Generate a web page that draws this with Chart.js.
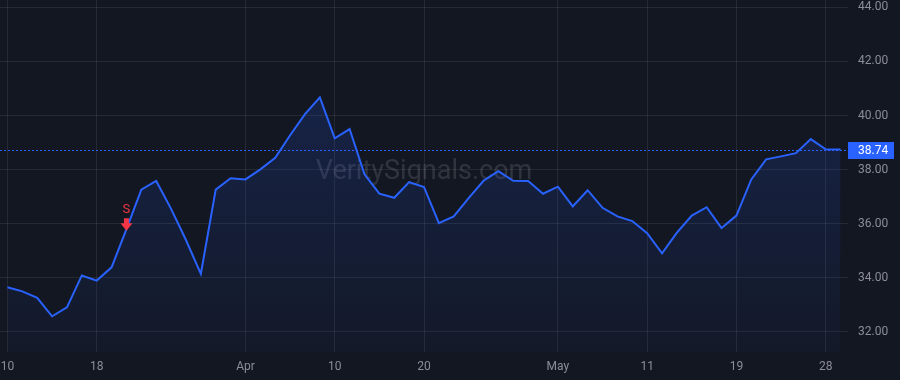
<!DOCTYPE html>
<html>
<head>
<meta charset="utf-8">
<script src="https://cdn.jsdelivr.net/npm/chart.js@4.4.1/dist/chart.umd.min.js"></script>
<style>
  html, body { margin: 0; padding: 0; background: #131722; }
  #canvas { display: block; }
</style>
</head>
<body>
<canvas id="canvas" width="900" height="380"></canvas>
<script>
var prices = [33.65, 33.50, 33.26, 32.58, 32.91, 34.09, 33.90, 34.39, 35.80, 37.26,
              37.58, 36.55, 35.40, 34.15, 37.26, 37.68, 37.64, 38.01, 38.44, 39.27,
              40.05, 40.67, 39.16, 39.50, 37.83, 37.11, 36.96, 37.54, 37.36, 36.02,
              36.27, 36.95, 37.59, 37.94, 37.59, 37.58, 37.11, 37.37, 36.64, 37.24,
              36.59, 36.27, 36.10, 35.65, 34.91, 35.67, 36.30, 36.61, 35.84, 36.30,
              37.64, 38.38, 38.49, 38.61, 39.13, 38.75, 38.74];
var tickIndex = [0, 6, 16, 22, 28, 37, 43, 49, 55];
var tickText = ['10', '18', 'Apr', '10', '20', 'May', '11', '19', '28'];
var monthLabels = ['Apr', 'May'];
var yTicks = [32, 34, 36, 38, 40, 42, 44];
var sellSignals = [8];

var lineBlue = '#2962ff';
var labelGrey = '#8b8e97';
var fontFamily = 'Roboto, "Noto Sans", sans-serif';

function noPadding(scale) {
    scale.paddingLeft = 0;
    scale.paddingRight = 0;
    scale.paddingTop = 0;
    scale.paddingBottom = 0;
}

var overlays = {
    id: 'overlays',
    beforeDatasetsDraw: function(chart) {
        var ctx = chart.ctx;
        var area = chart.chartArea;
        ctx.save();
        ctx.font = '27px ' + fontFamily;
        ctx.fillStyle = 'rgba(255, 255, 255, 0.12)';
        ctx.textAlign = 'center';
        ctx.textBaseline = 'middle';
        ctx.fillText('VeritySignals.com', (area.left + area.right) / 2, 172);
        ctx.restore();
    },
    afterDatasetsDraw: function(chart) {
        var ctx = chart.ctx;
        var area = chart.chartArea;
        var x = chart.scales.x;
        var y = chart.scales.y;
        var last = prices[prices.length - 1];
        var ly = Math.round(y.getPixelForValue(last)) + 0.5;

        // last price dotted line
        ctx.save();
        ctx.strokeStyle = lineBlue;
        ctx.lineWidth = 1;
        ctx.setLineDash([2, 2]);
        ctx.beginPath();
        ctx.moveTo(area.left, ly);
        ctx.lineTo(area.right, ly);
        ctx.stroke();
        ctx.restore();

        // last price label
        ctx.save();
        ctx.fillStyle = lineBlue;
        ctx.fillRect(area.right, ly - 8.5, 46, 17);
        ctx.fillStyle = '#ffffff';
        ctx.font = '12px ' + fontFamily;
        ctx.textAlign = 'left';
        ctx.textBaseline = 'middle';
        ctx.fillText(last.toFixed(2), area.right + 10, ly + 0.5);
        ctx.restore();

        // sell markers
        sellSignals.forEach(function(i) {
            var px = x.getPixelForValue(i);
            var py = y.getPixelForValue(prices[i]);
            ctx.save();
            ctx.fillStyle = '#f23645';
            ctx.beginPath();
            ctx.moveTo(px - 2.5, py - 11);
            ctx.lineTo(px + 2.5, py - 11);
            ctx.lineTo(px + 2.5, py - 6);
            ctx.lineTo(px + 6, py - 6);
            ctx.lineTo(px, py + 1.5);
            ctx.lineTo(px - 6, py - 6);
            ctx.lineTo(px - 2.5, py - 6);
            ctx.closePath();
            ctx.fill();
            ctx.font = '13px ' + fontFamily;
            ctx.textAlign = 'center';
            ctx.textBaseline = 'middle';
            ctx.fillText('S', px, py - 19);
            ctx.restore();
        });
    }
};

var config = {
    type: 'line',
    data: {
        labels: prices.map(function(p, i) { return i; }),
        datasets: [{
            data: prices,
            borderColor: lineBlue,
            borderWidth: 2,
            pointRadius: 0,
            tension: 0,
            fill: 'start',
            backgroundColor: function(context) {
                var chart = context.chart;
                var area = chart.chartArea;
                if (!area) {
                    return 'rgba(41, 98, 255, 0.1)';
                }
                var g = chart.ctx.createLinearGradient(0, area.top, 0, area.bottom);
                g.addColorStop(0, 'rgba(41, 98, 255, 0.22)');
                g.addColorStop(1, 'rgba(41, 98, 255, 0.03)');
                return g;
            }
        }]
    },
    options: {
        responsive: false,
        animation: false,
        devicePixelRatio: 1,
        layout: { padding: 0 },
        plugins: {
            legend: { display: false },
            tooltip: { enabled: false }
        },
        scales: {
            x: {
                type: 'category',
                offset: true,
                afterFit: function(scale) {
                    scale.height = 28;
                    noPadding(scale);
                },
                grid: { color: 'rgba(255, 255, 255, 0.08)', drawTicks: false },
                border: { display: false },
                ticks: {
                    autoSkip: false,
                    maxRotation: 0,
                    padding: 8,
                    color: labelGrey,
                    font: function(ctx) {
                        var k = tickIndex.indexOf(ctx.index);
                        var bold = k >= 0 && monthLabels.indexOf(tickText[k]) >= 0;
                        return { family: fontFamily, size: 12, weight: bold ? 'bold' : 'normal' };
                    },
                    callback: function(value, index) {
                        var k = tickIndex.indexOf(index);
                        return k >= 0 ? tickText[k] : null;
                    }
                }
            },
            y: {
                position: 'right',
                min: 31.26,
                max: 44.27,
                afterFit: function(scale) {
                    scale.width = 52;
                    noPadding(scale);
                },
                afterBuildTicks: function(scale) {
                    scale.ticks = yTicks.map(function(v) { return { value: v }; });
                },
                grid: { color: 'rgba(255, 255, 255, 0.08)', drawTicks: false },
                border: { display: false },
                ticks: {
                    padding: 10,
                    color: labelGrey,
                    font: { family: fontFamily, size: 12 },
                    callback: function(v) { return v.toFixed(2); }
                }
            }
        }
    },
    plugins: [overlays]
};

window.onload = function() {
    window.myLine = new Chart(document.getElementById('canvas'), config);
};
</script>
</body>
</html>
